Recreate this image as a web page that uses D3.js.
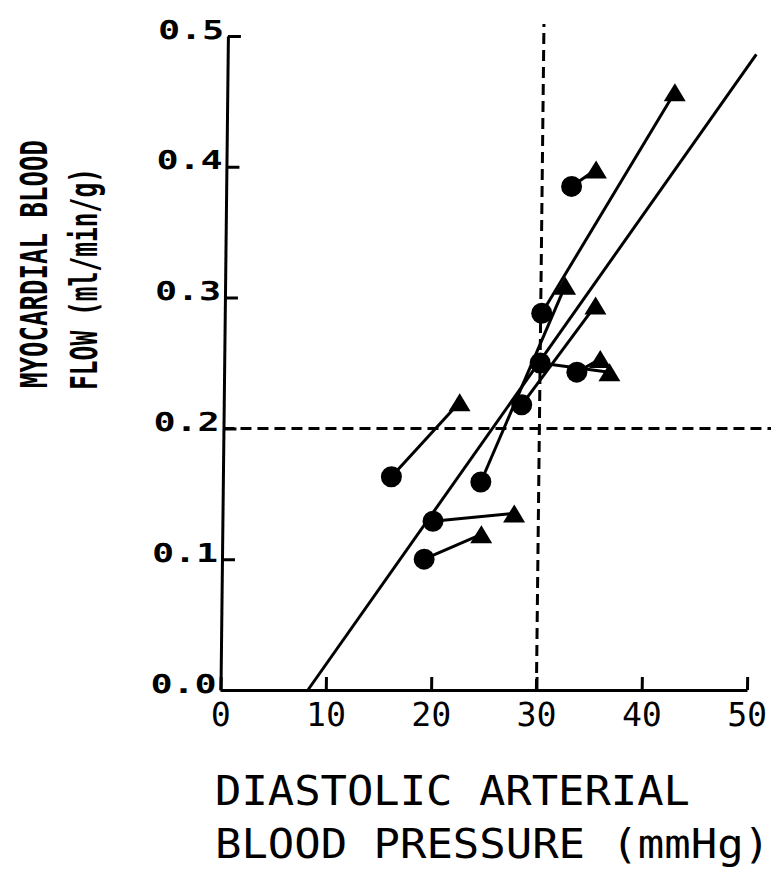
<!DOCTYPE html>
<html><head><meta charset="utf-8">
<script src="https://cdn.jsdelivr.net/npm/d3@7/dist/d3.min.js"></script>
<style>body{margin:0;background:#fff} svg{display:block}</style>
</head><body><svg id="chart" width="771" height="878"></svg>
<script>
// ---- data ----
const xTicks = [0, 10, 20, 30, 40, 50];
const yTicks = [0, 0.1, 0.2, 0.3, 0.4, 0.5];
const yTickLabels = ["0.0", "0.1", "0.2", "0.3", "0.4", "0.5"];
// circles (starting state) and triangles (end state), paired by index
const circleX = [16.0, 20.0, 19.2, 24.5, 28.3, 30.1, 30.0, 33.5, 32.8];
const circleY = [0.163, 0.129, 0.100, 0.159, 0.218, 0.288, 0.250, 0.243, 0.385];
const triangleX = [22.4, 27.7, 24.6, 32.3, 35.2, 42.5, 36.6, 35.7, 35.1];
const triangleY = [0.220, 0.135, 0.119, 0.309, 0.294, 0.457, 0.243, 0.253, 0.398];
// regression line
const fitX = [8.3, 50.2];
const fitY = [0, 0.486];
// reference (threshold) lines
const refX = 30;
const refY = 0.2;
const xTitle = ["DIASTOLIC ARTERIAL", "BLOOD PRESSURE (mmHg)"];
const yTitle = ["MYOCARDIAL BLOOD", "FLOW (ml/min/g)"];

// ---- drawing ----
const svg = d3.select("#chart");
const W = 771;
const x = d3.scaleLinear().domain([0, 50]).range([220.5, 747]);
const y = d3.scaleLinear().domain([0, 0.5]).range([690, 36]);
const FONT = "'DejaVu Sans Mono', 'Liberation Mono', monospace";

// the scanned original is slightly sheared; mimic it
const plot = svg.append("g")
  .attr("transform", `translate(0,${y(0)}) skewX(-0.65) translate(0,${-y(0)})`);

// dashed reference lines
plot.append("line")
  .attr("x1", x(0)).attr("x2", W + 10)
  .attr("y1", y(refY)).attr("y2", y(refY))
  .attr("stroke", "#000").attr("stroke-width", 3).attr("stroke-dasharray", "11,6");
plot.append("line")
  .attr("x1", x(refX)).attr("x2", x(refX))
  .attr("y1", y(0)).attr("y2", y.range()[1] - 12)
  .attr("stroke", "#000").attr("stroke-width", 3).attr("stroke-dasharray", "11,6");

// axes
const xAxis = d3.axisBottom(x).tickValues(xTicks).tickSizeInner(-13).tickSizeOuter(0)
  .tickPadding(13).tickFormat(d3.format("d"));
const gx = plot.append("g").attr("transform", `translate(0,${y(0)})`).call(xAxis);
gx.select(".domain").attr("stroke-width", 3);
gx.selectAll(".tick line").attr("stroke-width", 3);
gx.selectAll(".tick text").attr("font-family", FONT).attr("font-size", 33).attr("fill", "#000");

const yAxis = d3.axisLeft(y).tickValues(yTicks).tickSizeInner(-13).tickSizeOuter(0)
  .tickPadding(4).tickFormat((d, i) => yTickLabels[i]);
const gy = plot.append("g").attr("transform", `translate(${x(0)},0)`).call(yAxis);
gy.select(".domain").attr("stroke-width", 3);
gy.selectAll(".tick line").attr("stroke-width", 3);
gy.selectAll(".tick text")
  .attr("font-family", FONT).attr("font-size", 26).attr("font-weight", "bold")
  .attr("fill", "#000").attr("dy", "2")
  .attr("textLength", 66).attr("lengthAdjust", "spacingAndGlyphs");
gx.attr("font-family", null); gy.attr("font-family", null);

// regression line
plot.append("line")
  .attr("x1", x(fitX[0])).attr("y1", y(fitY[0]))
  .attr("x2", x(fitX[1])).attr("y2", y(fitY[1]))
  .attr("stroke", "#000").attr("stroke-width", 3);

// connectors
const pairs = d3.range(circleX.length);
plot.append("g").selectAll("line").data(pairs).join("line")
  .attr("x1", i => x(circleX[i])).attr("y1", i => y(circleY[i]))
  .attr("x2", i => x(triangleX[i])).attr("y2", i => y(triangleY[i]))
  .attr("stroke", "#000").attr("stroke-width", 3);

// circles
plot.append("g").selectAll("circle").data(pairs).join("circle")
  .attr("cx", i => x(circleX[i])).attr("cy", i => y(circleY[i]))
  .attr("r", 10.5).attr("fill", "#000");

// triangles
const tw = 22, th = 18;
plot.append("g").selectAll("path").data(pairs).join("path")
  .attr("transform", i => `translate(${x(triangleX[i])},${y(triangleY[i])})`)
  .attr("d", `M0,${-th/2}L${tw/2},${th/2}L${-tw/2},${th/2}Z`)
  .attr("fill", "#000");

// axis titles
const xt = svg.append("g").attr("font-family", FONT).attr("fill", "#000").attr("font-size", 40);
xt.append("text").attr("x", 215).attr("y", 805).text(xTitle[0])
  .attr("textLength", 475).attr("lengthAdjust", "spacingAndGlyphs");
xt.append("text").attr("x", 215).attr("y", 858).text(xTitle[1])
  .attr("textLength", 555).attr("lengthAdjust", "spacingAndGlyphs");

const yt = svg.append("g").attr("font-family", FONT).attr("fill", "#000")
  .attr("font-size", 37).attr("font-weight", "bold");
yt.append("text").attr("transform", "translate(47,388) rotate(-90)").text(yTitle[0])
  .attr("textLength", 248).attr("lengthAdjust", "spacingAndGlyphs");
yt.append("text").attr("transform", "translate(97,390) rotate(-90)").text(yTitle[1])
  .attr("textLength", 222).attr("lengthAdjust", "spacingAndGlyphs");
</script>
</body></html>
